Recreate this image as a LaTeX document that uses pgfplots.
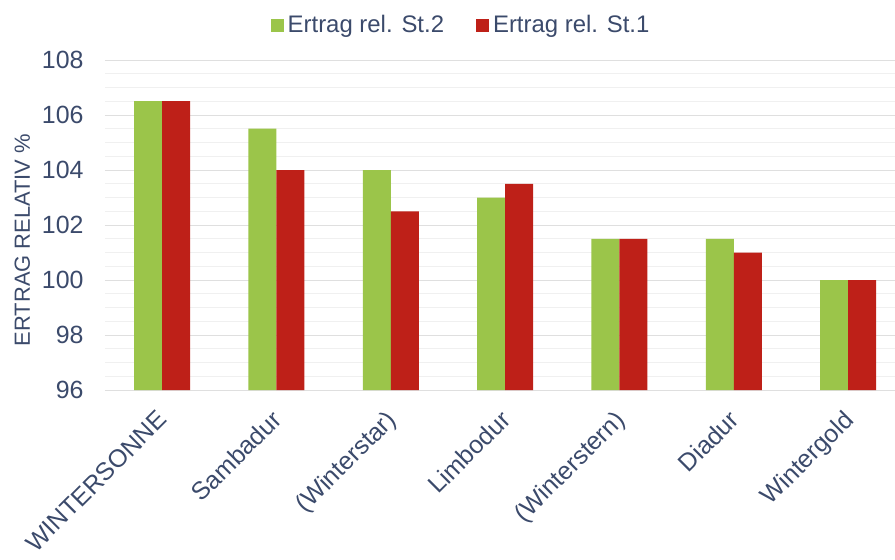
\documentclass[border=0pt]{standalone}
\usepackage{fontspec}
\setmainfont{Liberation Sans}
\usepackage{pgfplots}
\pgfplotsset{compat=1.18}
\definecolor{cgreen}{HTML}{9BC54A}
\definecolor{cred}{HTML}{BE2018}
\definecolor{ctext}{HTML}{3B4A6B}
\begin{document}
\begin{tikzpicture}
\path[use as bounding box] (-105bp,-170bp) rectangle (790bp,390bp);
\begin{axis}[
  at={(0,0)}, anchor=south west,
  scale only axis, width=790bp, height=330bp,
  ybar, bar width=28bp,
  xmin=-0.5, xmax=6.41,
  ymin=96, ymax=108,
  ytick={96,98,...,108},
  minor y tick num=3,
  ymajorgrids, yminorgrids,
  major grid style={draw=gray!25, line width=0.8pt},
  minor grid style={draw=gray!12, line width=0.6pt},
  axis line style={draw=none},
  tick style={draw=none},
  xtick=data,
  xticklabels={WINTERSONNE,Sambadur,(Winterstar),Limbodur,(Winterstern),Diadur,Wintergold},
  xticklabel style={rotate=45, anchor=north east, font=\fontsize{25}{29}\selectfont, text=ctext, xshift=-11bp, yshift=-2.5bp},
  yticklabel style={font=\fontsize{25}{29}\selectfont, text=ctext, xshift=-18bp},
  /pgf/number format/assume math mode=true,
  ylabel={ERTRAG RELATIV \%},
  ylabel style={font=\fontsize{22}{26}\selectfont, text=ctext, yshift=5bp, xshift=-15bp},
  legend style={at={(0.452,1.065)}, anchor=south, draw=none, legend columns=2,
    font=\fontsize{24}{28}\selectfont, text=ctext,
    /tikz/every even column/.append style={column sep=28bp},
    nodes={inner xsep=4bp}},
  legend image code/.code={\fill[#1] (0bp,-7bp) rectangle (13bp,6bp);},
]
\addplot[fill=cgreen, draw=none, bar shift=-14bp] coordinates {(0,106.5) (1,105.5) (2,104) (3,103) (4,101.5) (5,101.5) (6,100)};
\addplot[fill=cred, draw=none, bar shift=14bp] coordinates {(0,106.5) (1,104) (2,102.5) (3,103.5) (4,101.5) (5,101) (6,100)};
\legend{Ertrag rel. St.2, Ertrag rel. St.1}
\end{axis}
\end{tikzpicture}
\end{document}
